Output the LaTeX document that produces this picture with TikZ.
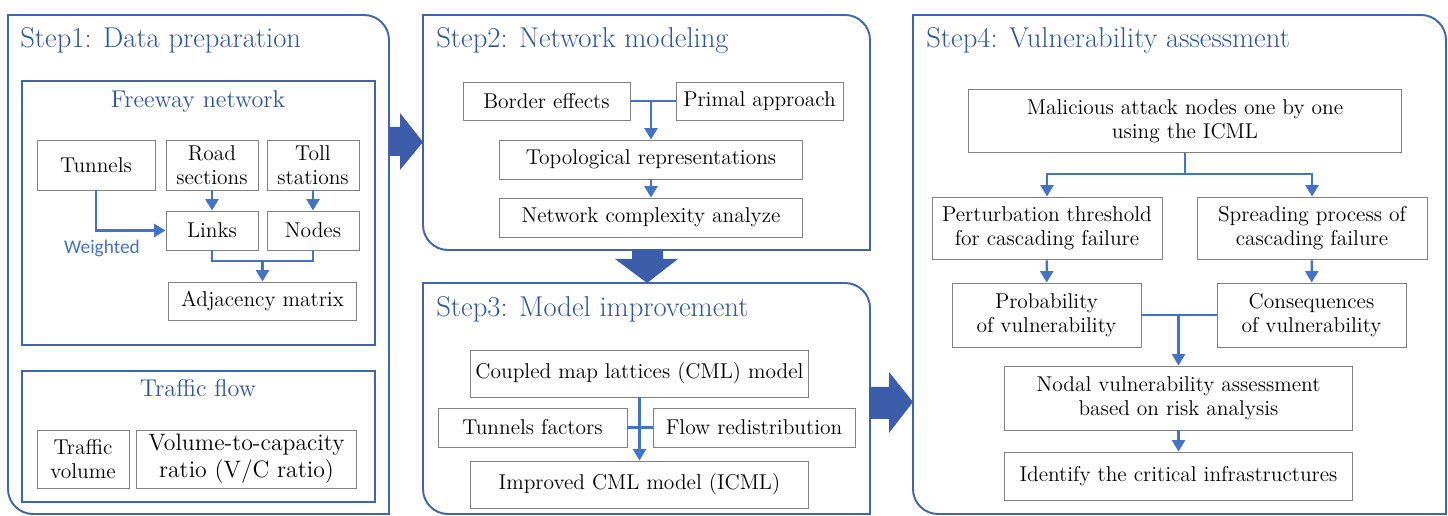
\documentclass[tikz,border=0pt]{standalone}
\usepackage{fontspec}
\usepackage{tikz}
\usetikzlibrary{arrows.meta}
\newfontfamily\carlito{Carlito}

\definecolor{stepblue}{RGB}{47,85,151}
\definecolor{frameblue}{RGB}{66,101,166}
\definecolor{fatblue}{RGB}{59,93,170}
\definecolor{linkblue}{RGB}{68,114,196}
\definecolor{boxgray}{RGB}{128,128,128}

\begin{document}
\begin{tikzpicture}[x=0.02cm,y=0.02cm,
  frame/.style={draw=frameblue,line width=1.1pt},
  steptitle/.style={anchor=base west,text=stepblue,font=\fontsize{16.3}{19}\selectfont,inner sep=0pt},
  subtitle/.style={anchor=base,text=stepblue,font=\fontsize{13.8}{16}\selectfont,inner sep=0pt},
  box/.style={draw=boxgray,line width=0.55pt,fill=white,align=center,inner sep=0pt,
    font=\fontsize{12.2}{13.6}\selectfont},
  link/.style={draw=linkblue,line width=1.4pt},
  arr/.style={link,-{Triangle[width=7.4pt,length=6.5pt]}},
  fat/.style={fill=fatblue,draw=none}]
\useasboundingbox (0,0) rectangle (1448,516);

% Four step panels, rounded at top right and bottom left.
\draw[frame] (8,501) -- (364,501) arc[start angle=90,end angle=0,radius=25] -- (389,2) -- (33,2) arc[start angle=270,end angle=180,radius=25] -- cycle;
\draw[frame] (423,501) -- (845,501) arc[start angle=90,end angle=0,radius=25] -- (870,266) -- (448,266) arc[start angle=270,end angle=180,radius=25] -- cycle;
\draw[frame] (423,233) -- (845,233) arc[start angle=90,end angle=0,radius=25] -- (870,2) -- (448,2) arc[start angle=270,end angle=180,radius=25] -- cycle;
\draw[frame] (913,501) -- (1421,501) arc[start angle=90,end angle=0,radius=25] -- (1446,2) -- (938,2) arc[start angle=270,end angle=180,radius=25] -- cycle;

\node[steptitle] (t1) at (20,468) {Step1: Data preparation};
\node[steptitle] (t2) at (436,468) {Step2: Network modeling};
\node[steptitle] (t3) at (436,199) {Step3: Model improvement};
\node[steptitle] (t4) at (926,468) {Step4: Vulnerability assessment};

% Fat arrows between the steps.
\fill[fat] (389,389) -- (400,389) -- (400,403) -- (423,374) -- (400,346) -- (400,360) -- (389,360) -- cycle;
\fill[fat] (632,266) -- (632,257) -- (615,257) -- (647,233) -- (678,257) -- (663,257) -- (663,266) -- cycle;
\fill[fat] (869,129) -- (889,129) -- (889,144) -- (913,114) -- (889,83) -- (889,97) -- (869,97) -- cycle;

% Step1
\draw[frame] (22,435) rectangle (375,171);
\draw[frame] (22,145) rectangle (375,14);
\node[subtitle] (fwy) at (198,408) {Freeway network};
\node[subtitle] (tfl) at (198,119) {Traffic flow};

\node[box,minimum width=2.36cm,minimum height=1.0cm] (tun) at (96,351) {Tunnels};
\node[box,minimum width=1.84cm,minimum height=1.0cm] (road) at (212,351) {Road\\sections};
\node[box,minimum width=1.84cm,minimum height=1.0cm] (toll) at (313,351) {Toll\\stations};
\node[box,minimum width=1.84cm,minimum height=0.78cm] (lnk) at (212,285.5) {Links};
\node[box,minimum width=1.84cm,minimum height=0.78cm] (nds) at (313,285.5) {Nodes};
\node[box,minimum width=3.76cm,minimum height=0.76cm] (adj) at (262.5,215) {Adjacency matrix};
\node[text=linkblue,font=\carlito\fontsize{11}{13}\selectfont] (wgt) at (102,268) {Weighted};

\node[box,minimum width=1.84cm,minimum height=1.16cm] (tvol) at (83,57) {Traffic\\volume};
\node[box,minimum width=4.42cm,minimum height=1.16cm,font=\fontsize{13.5}{15.5}\selectfont] (vc) at (246.5,57) {Volume-to-capacity\\ratio (V/C ratio)};

\coordinate (j1) at (262.5,255);
\draw[arr] (tun.south) |- (lnk.west);
\draw[arr] (road) -- (lnk);
\draw[arr] (toll) -- (nds);
\draw[link] (lnk.south) |- (j1) -| (nds.south);
\draw[arr] (j1) -- (adj.north);

% Step2
\node[box,minimum width=3.34cm,minimum height=0.76cm] (bord) at (546.5,415) {Border effects};
\node[box,minimum width=3.34cm,minimum height=0.76cm] (prim) at (759.5,415) {Primal approach};
\node[box,minimum width=6.08cm,minimum height=0.78cm] (topo) at (651,356.5) {Topological representations};
\node[box,minimum width=6.08cm,minimum height=0.78cm] (cplx) at (651,298.5) {Network complexity analyze};

\coordinate (j2) at (651,415);
\draw[link] (bord.east) -- (prim.west);
\draw[arr] (j2) -- (topo.north);
\draw[arr] (topo) -- (cplx);

% Step3
\node[box,minimum width=6.78cm,minimum height=0.94cm] (cml) at (639.5,142.5) {Coupled map lattices (CML) model};
\node[box,minimum width=3.78cm,minimum height=0.78cm] (tfac) at (532.5,88.5) {Tunnels factors};
\node[box,minimum width=4.04cm,minimum height=0.78cm] (redi) at (754,88.5) {Flow redistribution};
\node[box,minimum width=6.78cm,minimum height=0.94cm] (icml) at (639.5,31.5) {Improved CML model (ICML)};

\draw[link] (tfac.east) -- (redi.west);
\draw[arr] (cml) -- (icml);

% Step4
\node[box,minimum width=8.68cm,minimum height=1.28cm] (atk) at (1185,395) {Malicious attack nodes one by one\\using the ICML};
\node[box,minimum width=4.6cm,minimum height=1.26cm] (pert) at (1047,287.5) {Perturbation threshold\\for cascading failure};
\node[box,minimum width=4.6cm,minimum height=1.26cm] (sprd) at (1312,287.5) {Spreading process of\\cascading failure};
\node[box,minimum width=3.78cm,minimum height=1.28cm] (prob) at (1046.5,201) {Probability\\of vulnerability};
\node[box,minimum width=3.78cm,minimum height=1.28cm] (cons) at (1311.5,201) {Consequences\\of vulnerability};
\node[box,minimum width=6.98cm,minimum height=1.28cm] (nva) at (1178.5,118) {Nodal vulnerability assessment\\based on risk analysis};
\node[box,minimum width=6.98cm,minimum height=0.96cm] (crit) at (1178.5,40) {Identify the critical infrastructures};

\coordinate (j3) at (1185,342);
\coordinate (j4) at (1178.5,201);
\draw[link] (atk.south) -- (j3);
\draw[arr] (j3) -| (pert.north);
\draw[arr] (j3) -| (sprd.north);
\draw[arr] (pert) -- (prob);
\draw[arr] (sprd) -- (cons);
\draw[link] (prob.east) -- (cons.west);
\draw[arr] (j4) -- (nva.north);
\draw[arr] (nva) -- (crit);

\end{tikzpicture}
\end{document}
